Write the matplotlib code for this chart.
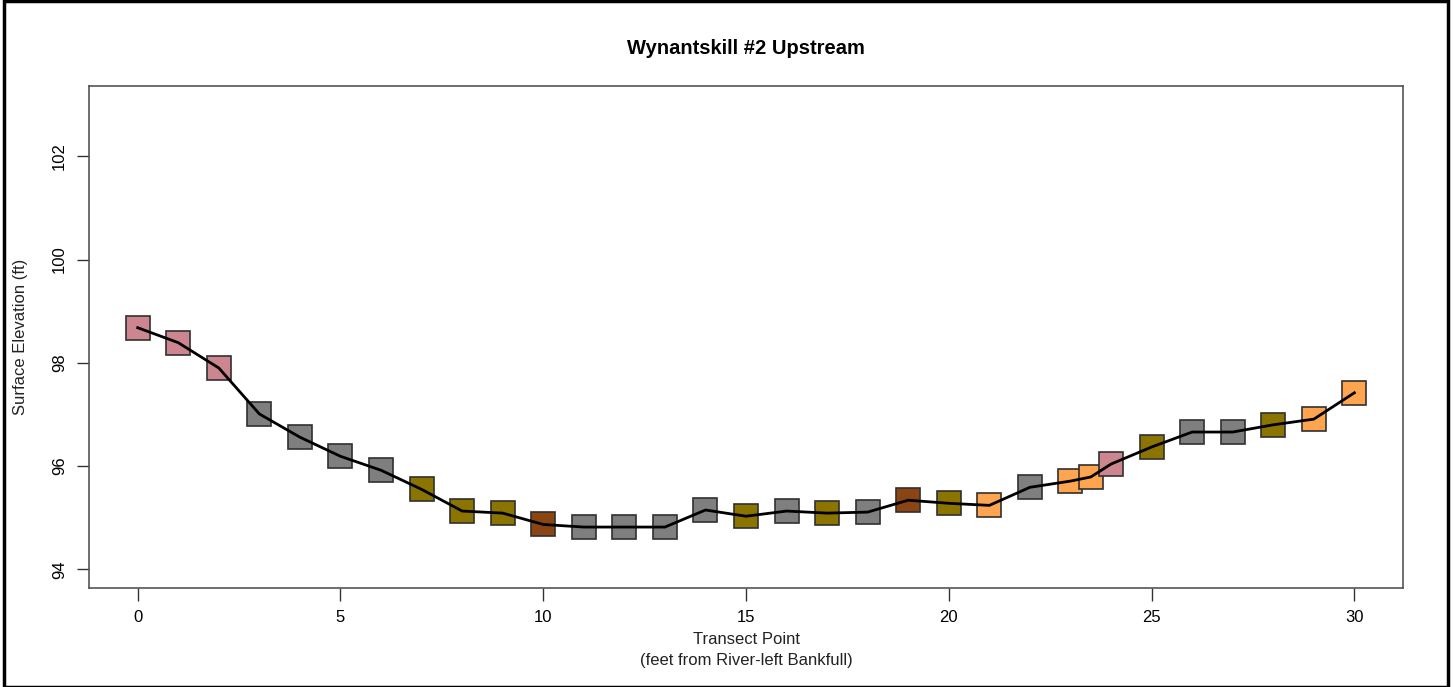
import matplotlib.pyplot as plt
from matplotlib.patches import Rectangle

plt.rcParams['font.family'] = ['Liberation Sans', 'DejaVu Sans']

# transect points (feet from river-left bankfull) and surface elevation (ft)
x = [0, 1, 2, 3, 4, 5, 6, 7, 8, 9, 10, 11, 12, 13, 14, 15, 16, 17, 18, 19,
     20, 21, 22, 23, 23.5, 24, 25, 26, 27, 28, 29, 30]
elev = [98.68, 98.39, 97.90, 97.01, 96.56, 96.19, 95.92, 95.55, 95.13, 95.09,
        94.87, 94.82, 94.82, 94.82, 95.15, 95.03, 95.13, 95.09, 95.11, 95.34,
        95.28, 95.24, 95.59, 95.71, 95.79, 96.04, 96.37, 96.66, 96.66, 96.80,
        96.91, 97.42]
cls = ['pink', 'pink', 'pink', 'gray', 'gray', 'gray', 'gray', 'olive',
       'olive', 'olive', 'brown', 'gray', 'gray', 'gray', 'gray', 'olive',
       'gray', 'olive', 'gray', 'brown', 'olive', 'orange', 'gray', 'orange',
       'orange', 'pink', 'olive', 'gray', 'gray', 'olive', 'orange', 'orange']

palette = {'pink': '#CD8690', 'gray': '#7F7F7F', 'olive': '#8B7500',
           'brown': '#8B4513', 'orange': '#FFA54F'}

xticks = [0, 5, 10, 15, 20, 25, 30]
yticks = [94, 96, 98, 100, 102]

fig = plt.figure(figsize=(14.55, 6.87), dpi=100)
ax = fig.add_axes([0.0612, 0.1441, 0.9031, 0.7307])

for xi, yi, c in zip(x, elev, cls):
    ax.plot(xi, yi, marker='s', ms=17, mfc=palette[c], mec='#303030',
            mew=1.2, ls='none', zorder=2)
ax.plot(x, elev, color='black', lw=2, zorder=3)

ax.set_xlim(-1.2, 31.2)
ax.set_ylim(93.64, 103.36)
ax.set_xticks(xticks)
ax.set_yticks(yticks)
ax.tick_params(direction='out', length=9, width=1, color='#333333',
               labelsize=12, pad=7)
for lab in ax.get_yticklabels():
    lab.set_rotation(90)
    lab.set_va('center')
for s in ax.spines.values():
    s.set_color('#555555')
    s.set_linewidth(1.2)

ax.set_title('Wynantskill #2 Upstream', fontsize=14.5, fontweight='bold',
             pad=23)
ax.set_xlabel('Transect Point\n(feet from River-left Bankfull)', fontsize=12,
              labelpad=5, color='#222222', linespacing=1.45)
ax.set_ylabel('Surface Elevation (ft)', fontsize=12, labelpad=17,
              color='#222222')

fig.patches.append(Rectangle((0.003, 0.0), 0.9925, 0.998,
                             transform=fig.transFigure, fill=False,
                             edgecolor='black', lw=2.5))

fig.savefig('out.png', dpi=100)
